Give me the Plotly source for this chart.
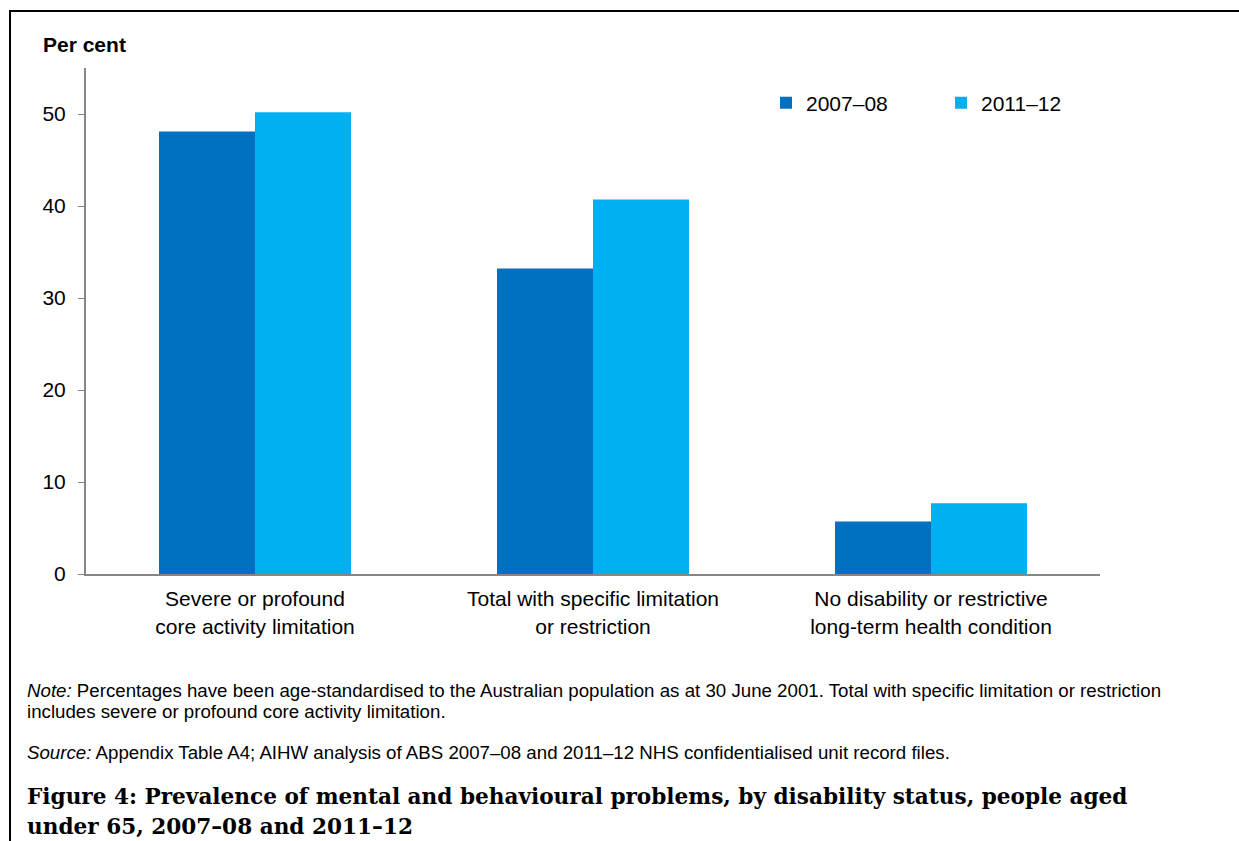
import plotly.graph_objects as go

categories = ["Severe or profound<br>core activity limitation",
              "Total with specific limitation<br>or restriction",
              "No disability or restrictive<br>long-term health condition"]
series_names = ["2007–08", "2011–12"]
values_2007 = [48.1, 33.2, 5.7]
values_2011 = [50.2, 40.7, 7.7]
y_ticks = [0, 10, 20, 30, 40, 50]

colors = ["#0070C0", "#00B0F0"]

W, H = 1239, 841
L, R, T = 86, 139, 68
B = H - 574
pw = W - L - R
ph = H - T - B

def px(x):
    return (x - L) / pw

def py(y):
    return (H - B - y) / ph

fig = go.Figure()
for name, vals, c in zip(series_names, [values_2007, values_2011], colors):
    fig.add_trace(go.Bar(x=categories, y=vals, name=name, marker_color=c,
                         marker_line_width=0))

fig.update_layout(
    width=W, height=H,
    margin=dict(l=L, r=R, t=T, b=B, pad=0),
    paper_bgcolor="white", plot_bgcolor="white",
    barmode="group", bargap=0.432, bargroupgap=0,
    font=dict(family="Liberation Sans, Arial, sans-serif", size=21, color="#000000"),
    showlegend=True,
    legend=dict(orientation="h", x=px(766), xanchor="left", y=py(103), yanchor="middle",
                font=dict(size=21), entrywidth=130, entrywidthmode="pixels",
                itemwidth=30, bgcolor="rgba(0,0,0,0)", traceorder="normal"),
    xaxis=dict(showline=True, linecolor="#868686", linewidth=2, ticks="",
               showgrid=False, tickfont=dict(size=21), ticklabelstandoff=5),
    yaxis=dict(range=[0, 55], tickvals=y_ticks, showline=True, linecolor="#868686",
               linewidth=2, ticks="outside", ticklen=6, tickcolor="#868686", tickwidth=1,
               showgrid=False, zeroline=False, tickfont=dict(size=21), ticklabelstandoff=8),
)

serif = "DejaVu Serif, Liberation Serif, serif"
annotations = [
    dict(text="<b>Per cent</b>", x=px(41), y=py(44), xanchor="left", yanchor="middle",
         font=dict(size=21)),
    dict(text="<i>Note:</i> Percentages have been age-standardised to the Australian population as at 30 June 2001. Total with specific limitation or restriction",
         x=px(25), y=py(690), xanchor="left", yanchor="middle", font=dict(size=18.7)),
    dict(text="includes severe or profound core activity limitation.",
         x=px(25), y=py(711), xanchor="left", yanchor="middle", font=dict(size=18.7)),
    dict(text="<i>Source:</i> Appendix Table A4; AIHW analysis of ABS 2007–08 and 2011–12 NHS confidentialised unit record files.",
         x=px(25), y=py(752), xanchor="left", yanchor="middle", font=dict(size=18.7)),
    dict(text="<b>Figure 4: Prevalence of mental and behavioural problems, by disability status, people aged</b>",
         x=px(25), y=py(796), xanchor="left", yanchor="middle",
         font=dict(size=21.6, family=serif)),
    dict(text="<b>under 65, 2007–08 and 2011–12</b>",
         x=px(25), y=py(826), xanchor="left", yanchor="middle",
         font=dict(size=21.6, family=serif)),
]
for a in annotations:
    a.update(xref="paper", yref="paper", showarrow=False, align="left")
fig.update_layout(annotations=annotations)

fig.add_shape(type="line", xref="paper", yref="paper", x0=px(9), x1=px(1239), y0=py(11), y1=py(11),
              line=dict(color="black", width=2))
fig.add_shape(type="line", xref="paper", yref="paper", x0=px(10), x1=px(10), y0=py(10), y1=py(841),
              line=dict(color="black", width=2))

fig.write_html("out.html", config={"displayModeBar": False},
               post_script="document.body.style.margin='0';document.body.style.overflow='hidden';")
